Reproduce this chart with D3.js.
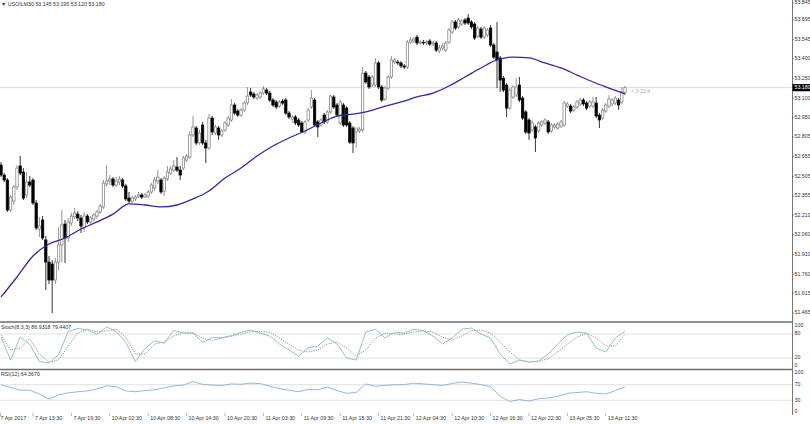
<!DOCTYPE html>
<html><head><meta charset="utf-8">
<script src="https://cdn.jsdelivr.net/npm/d3@7"></script>
<style>body{margin:0;background:#fff}svg{display:block}text{font-family:"Liberation Sans",Arial,sans-serif;font-size:5.3px;fill:#333}</style>
</head><body><svg id="c" width="810" height="425"></svg>
<script>
const symbol = "USOILM30";
const headerOHLC = ["53.145","53.195","53.120","53.180"];
const open = [52.591,52.515,52.477,52.249,52.317,52.424,52.584,52.538,52.363,52.462,52.477,52.302,52.104,52.173,52.021,51.853,51.838,51.716,51.853,51.983,
52.142,52.036,52.150,52.196,52.218,52.188,52.112,52.203,52.158,52.180,52.203,52.234,52.272,52.447,52.470,52.485,52.439,52.462,52.477,52.432,
52.340,52.317,52.333,52.348,52.363,52.348,52.355,52.386,52.416,52.470,52.477,52.393,52.485,52.530,52.553,52.576,52.553,52.568,52.629,52.652,
52.820,52.873,52.759,52.896,52.759,52.721,52.949,52.835,52.873,52.820,52.858,52.896,52.934,53.048,53.002,52.972,53.010,53.063,53.147,53.132,
53.101,53.109,53.139,53.162,53.139,53.086,53.071,53.040,53.078,53.086,52.987,52.941,52.957,52.934,52.911,52.843,52.934,53.033,53.086,52.919,
52.896,52.972,52.919,52.995,53.109,53.048,52.911,53.048,53.025,52.911,52.873,52.843,52.850,52.858,53.291,53.261,53.200,53.200,53.368,53.185,
53.094,53.177,53.261,53.375,53.375,53.368,53.345,53.337,53.527,53.535,53.565,53.520,53.527,53.520,53.535,53.512,53.520,53.459,53.482,53.466,
53.527,53.603,53.680,53.642,53.664,53.695,53.710,53.680,53.664,53.573,53.626,53.565,53.581,53.634,53.505,53.451,53.406,53.253,53.200,53.025,
53.109,53.124,53.200,53.101,52.995,52.934,52.858,52.881,52.850,52.896,52.911,52.919,52.850,52.881,52.873,52.888,52.896,53.040,53.040,53.010,
53.033,53.056,53.086,53.063,53.040,53.040,53.063,52.972,52.949,53.002,53.040,53.056,53.063,53.086,53.071,53.145];
const high = [52.614,52.530,52.492,52.363,52.439,52.591,52.660,52.568,52.538,52.508,52.492,52.325,52.196,52.203,52.051,51.899,51.868,51.884,52.119,52.249,
52.173,52.188,52.226,52.264,52.241,52.211,52.234,52.218,52.203,52.226,52.249,52.295,52.477,52.591,52.515,52.500,52.500,52.508,52.492,52.447,
52.386,52.355,52.363,52.386,52.378,52.378,52.401,52.454,52.500,52.553,52.492,52.508,52.584,52.584,52.629,52.652,52.584,52.660,52.675,52.850,
52.964,52.888,52.858,52.919,52.782,52.979,52.964,52.896,52.888,52.865,52.926,52.964,53.094,53.063,53.018,53.025,53.078,53.185,53.177,53.147,
53.139,53.154,53.193,53.177,53.154,53.101,53.086,53.086,53.094,53.101,53.002,52.972,52.972,52.949,52.926,52.934,53.025,53.162,53.101,52.934,
52.949,52.987,53.010,53.124,53.124,53.063,53.086,53.063,53.040,52.926,52.888,52.858,52.881,53.337,53.307,53.276,53.276,53.406,53.383,53.200,
53.193,53.276,53.421,53.406,53.391,53.383,53.360,53.543,53.565,53.565,53.581,53.543,53.543,53.543,53.550,53.535,53.535,53.505,53.520,53.535,
53.634,53.695,53.695,53.710,53.702,53.710,53.740,53.695,53.680,53.649,53.642,53.649,53.634,53.657,53.520,53.680,53.421,53.269,53.215,53.177,
53.200,53.253,53.261,53.116,53.010,52.949,52.934,52.896,52.926,52.934,52.949,52.934,52.911,52.911,52.919,52.934,53.078,53.071,53.056,53.048,
53.086,53.101,53.101,53.078,53.086,53.109,53.109,52.987,53.025,53.063,53.124,53.101,53.116,53.101,53.185,53.195];
const low = [52.500,52.462,52.234,52.234,52.287,52.401,52.515,52.325,52.340,52.424,52.287,52.097,52.043,52.021,51.640,51.686,51.465,51.686,51.792,51.853,
51.846,52.005,52.127,52.180,52.165,52.074,52.081,52.142,52.135,52.165,52.180,52.218,52.257,52.424,52.439,52.424,52.424,52.439,52.416,52.317,
52.302,52.302,52.317,52.340,52.333,52.340,52.340,52.371,52.393,52.447,52.371,52.355,52.470,52.515,52.538,52.538,52.477,52.553,52.614,52.637,
52.804,52.744,52.744,52.744,52.607,52.706,52.820,52.820,52.782,52.804,52.843,52.881,52.919,52.972,52.957,52.957,52.995,53.048,53.109,53.094,
53.086,53.094,53.124,53.124,53.071,53.033,53.018,53.025,53.048,52.972,52.941,52.911,52.896,52.881,52.835,52.827,52.919,53.018,52.881,52.804,
52.881,52.903,52.903,52.979,53.018,52.957,52.896,52.881,52.881,52.751,52.683,52.721,52.835,52.843,53.208,53.170,53.185,53.185,53.170,53.071,
53.078,53.162,53.246,53.360,53.352,53.330,53.322,53.322,53.512,53.520,53.505,53.505,53.505,53.505,53.497,53.497,53.451,53.444,53.466,53.451,
53.512,53.588,53.619,53.626,53.649,53.657,53.657,53.626,53.543,53.558,53.550,53.550,53.565,53.489,53.398,53.177,53.147,53.147,52.957,53.010,
53.094,53.109,53.071,52.934,52.827,52.782,52.843,52.690,52.835,52.881,52.896,52.827,52.835,52.865,52.858,52.873,52.881,53.025,52.987,52.995,
53.018,53.040,53.040,53.010,53.025,53.025,52.949,52.873,52.934,52.987,53.025,53.040,53.048,53.010,53.056,53.120];
const close = [52.515,52.477,52.249,52.348,52.424,52.568,52.530,52.340,52.462,52.439,52.302,52.112,52.127,52.036,51.853,51.716,51.716,51.853,51.983,52.135,
52.036,52.158,52.203,52.226,52.188,52.127,52.203,52.158,52.188,52.211,52.234,52.279,52.454,52.470,52.485,52.439,52.470,52.485,52.432,52.333,
52.317,52.340,52.348,52.363,52.348,52.363,52.386,52.439,52.477,52.500,52.386,52.492,52.538,52.561,52.584,52.553,52.515,52.645,52.660,52.820,
52.881,52.759,52.835,52.759,52.721,52.949,52.843,52.881,52.820,52.850,52.911,52.949,53.048,52.987,52.972,53.010,53.063,53.116,53.124,53.109,
53.124,53.139,53.170,53.139,53.086,53.048,53.033,53.071,53.063,52.987,52.957,52.957,52.911,52.896,52.843,52.919,53.010,53.101,52.896,52.881,
52.934,52.919,52.995,53.116,53.033,52.972,53.071,52.896,52.896,52.766,52.759,52.873,52.865,53.291,53.223,53.185,53.261,53.368,53.185,53.086,
53.177,53.261,53.391,53.391,53.368,53.345,53.337,53.527,53.543,53.550,53.520,53.527,53.520,53.527,53.512,53.520,53.466,53.482,53.497,53.520,
53.619,53.680,53.634,53.695,53.687,53.672,53.672,53.642,53.558,53.634,53.565,53.634,53.619,53.505,53.413,53.391,53.238,53.162,53.025,53.162,
53.185,53.185,53.086,52.949,52.843,52.835,52.911,52.797,52.911,52.919,52.934,52.843,52.896,52.896,52.903,52.919,53.063,53.056,53.002,53.033,
53.071,53.086,53.056,53.025,53.071,53.071,52.964,52.934,53.010,53.048,53.094,53.086,53.101,53.048,53.147,53.180];
// moving average, read every 5 bars
const maValues = [51.587,51.739,51.899,51.990,52.036,52.104,52.158,52.218,52.295,52.287,52.272,52.287,52.333,52.393,52.492,52.568,52.660,52.736,52.797,52.850,
52.911,52.964,52.979,53.002,53.040,53.071,53.109,53.139,53.193,53.261,53.330,53.391,53.413,53.406,53.368,53.330,53.276,53.223,53.177,53.132];
// indicators, read every 3 bars
const stochK = [72,15,73,54,11,8,28,86,94,90,79,98,86,59,11,44,63,57,89,82,82,59,71,71,76,84,90,82,
75,55,40,25,45,50,70,55,20,15,85,92,70,85,82,92,88,75,55,70,92,95,80,70,30,5,15,10,12,30,55,78,85,82,45,35,70,86.93];
const stochD = [78,40,45,68,30,10,15,50,82,92,85,88,92,72,30,30,55,60,75,85,83,70,64,70,74,80,86,86,
85,70,55,40,35,40,55,60,45,25,40,70,82,80,80,85,88,85,72,65,75,88,90,82,60,35,15,10,12,18,35,55,72,82,70,50,50,79.44];
const rsi = [69,63,56,56,46,33,44,49,52,54,59,67,65,54,52,55,57,62,67,69,78,71,69,68,72,71,74,73,
66,60,56,52,58,57,64,55,48,50,72,66,68,70,70,74,72,70,68,73,77,74,70,65,40,27,32,28,34,36,40,48,50,52,48,46,55,64.37];
const priceTicks = ["53.845","53.695","53.545","53.400","53.250","53.100","52.950","52.805","52.655","52.505","52.355","52.210","52.060","51.910","51.760","51.615","51.465"];
const timeLabels = ["7 Apr 2017","7 Apr 13:30","7 Apr 19:30","10 Apr 02:30","10 Apr 08:30","10 Apr 14:30","10 Apr 20:30","11 Apr 03:30","11 Apr 09:30","11 Apr 15:30","11 Apr 21:30","12 Apr 04:30","12 Apr 10:30","12 Apr 16:30","12 Apr 22:30","13 Apr 05:30","13 Apr 11:30"];
const timeLabelBars = [-1,10,22,34,46,58,70,82,94,106,118,129,141,153,165,177,189];
const stochLevels = [100,80,20,0];
const rsiLevels = [100,70,30,0];
const stochTitle = "Stoch(8,3,3) 86.9318 79.4407";
const rsiTitle = "RSI(12) 64.3670";
const lastPrice = 53.180;
const timerText = "< 0:22:4";

const svg = d3.select("#c");
const R = 792;
const n = close.length;
const x = d3.scaleLinear().domain([0, 195]).range([1, 625]);
const y = d3.scaleLinear().domain([51.465, 53.695]).range([313, 20]);
const yS = d3.scaleLinear().domain([0, 100]).range([366, 326]);
const yR = d3.scaleLinear().domain([0, 100]).range([412, 373]);

svg.append("rect").attr("width",810).attr("height",425).attr("fill","#fff");
const defs = svg.append("defs");
defs.append("clipPath").attr("id","cm").append("rect").attr("x",0).attr("y",0).attr("width",R).attr("height",321);
defs.append("clipPath").attr("id","cs").append("rect").attr("x",0).attr("y",323).attr("width",R).attr("height",45);
defs.append("clipPath").attr("id","cr").append("rect").attr("x",0).attr("y",371).attr("width",R).attr("height",43);

// current price line
svg.append("line").attr("x1",0).attr("x2",R).attr("y1",y(lastPrice)).attr("y2",y(lastPrice)).attr("stroke","#cfcfcf").attr("stroke-width",0.8);

// candles
const gm = svg.append("g").attr("clip-path","url(#cm)");
const idx = d3.range(n);
gm.selectAll("line.w").data(idx).join("line")
  .attr("x1", i => x(i)).attr("x2", i => x(i))
  .attr("y1", i => y(high[i])).attr("y2", i => y(low[i]))
  .attr("stroke", i => close[i] >= open[i] ? "#7a7a7a" : "#000").attr("stroke-width",0.8);
gm.selectAll("rect.b").data(idx).join("rect")
  .attr("x", i => x(i) - 1.2).attr("width", 2.4)
  .attr("y", i => y(Math.max(open[i], close[i])))
  .attr("height", i => Math.max(0.8, Math.abs(y(open[i]) - y(close[i]))))
  .attr("fill", i => close[i] >= open[i] ? "#fff" : "#000")
  .attr("stroke", i => close[i] >= open[i] ? "#7a7a7a" : "#000").attr("stroke-width",0.7);

// moving average
gm.append("path").datum(maValues)
  .attr("d", d3.line().x((d,k) => x(k*5)).y(d => y(d)).curve(d3.curveMonotoneX))
  .attr("fill","none").attr("stroke","#2b2ba6").attr("stroke-width",1.3);

// timer
svg.append("text").attr("x",631).attr("y",y(lastPrice)+4).attr("dominant-baseline","middle").style("fill","#aaa").text(timerText);

// header
svg.append("text").attr("x",1).attr("y",4.5).attr("dominant-baseline","middle").text("\u25BC " + symbol + "  " + headerOHLC.join(" "));

// separators
[322, 369.5].forEach(v => svg.append("line").attr("x1",0).attr("x2",R).attr("y1",v).attr("y2",v).attr("stroke","#6e6e6e").attr("stroke-width",1.6));

// right axis
svg.append("line").attr("x1",R+0.5).attr("x2",R+0.5).attr("y1",0).attr("y2",415).attr("stroke","#555").attr("stroke-width",0.8);
priceTicks.forEach(t => {
  const yy = Math.max(3, y(+t));
  svg.append("line").attr("x1",R).attr("x2",R+2).attr("y1",yy).attr("y2",yy).attr("stroke","#555").attr("stroke-width",0.6);
  svg.append("text").attr("x",R+2.5).attr("y",yy).attr("dominant-baseline","middle").text(t);
});
svg.append("rect").attr("x",R+0.5).attr("y",y(lastPrice)-3.6).attr("width",18).attr("height",7.2).attr("fill","#000");
svg.append("text").attr("x",R+2.5).attr("y",y(lastPrice)).attr("dominant-baseline","middle").style("fill","#fff").text(lastPrice.toFixed(3));

// stochastic panel
const gs = svg.append("g").attr("clip-path","url(#cs)");
[80,20].forEach(l => gs.append("line").attr("x1",0).attr("x2",R).attr("y1",yS(l)).attr("y2",yS(l)).attr("stroke","#d4d4d4").attr("stroke-width",0.7));
gs.append("path").datum(stochD).attr("d", d3.line().x((d,k)=>x(k*3)).y(d=>yS(d)))
  .attr("fill","none").attr("stroke","#666").attr("stroke-width",0.7).attr("stroke-dasharray","1.2,1.2");
gs.append("path").datum(stochK).attr("d", d3.line().x((d,k)=>x(k*3)).y(d=>yS(d)))
  .attr("fill","none").attr("stroke","#86c0b8").attr("stroke-width",0.9);
svg.append("text").attr("x",1).attr("y",327.5).attr("dominant-baseline","middle").text(stochTitle);
stochLevels.forEach(l => svg.append("text").attr("x",R+2.5).attr("y",yS(l)).attr("dominant-baseline","middle").text(l));

// RSI panel
const gr = svg.append("g").attr("clip-path","url(#cr)");
[70,30].forEach(l => gr.append("line").attr("x1",0).attr("x2",R).attr("y1",yR(l)).attr("y2",yR(l)).attr("stroke","#d4d4d4").attr("stroke-width",0.7));
gr.append("path").datum(rsi).attr("d", d3.line().x((d,k)=>x(k*3)).y(d=>yR(d)))
  .attr("fill","none").attr("stroke","#7fb2de").attr("stroke-width",0.9);
svg.append("text").attr("x",1).attr("y",375).attr("dominant-baseline","middle").text(rsiTitle);
rsiLevels.forEach(l => svg.append("text").attr("x",R+2.5).attr("y",yR(l)).attr("dominant-baseline","middle").text(l));

// time axis
timeLabels.forEach((t,k) => {
  const xx = x(timeLabelBars[k]);
  svg.append("line").attr("x1",Math.max(0.5,xx)).attr("x2",Math.max(0.5,xx)).attr("y1",413).attr("y2",416).attr("stroke","#888").attr("stroke-width",0.6);
  svg.append("text").attr("x",Math.max(0.5, xx+2)).attr("y",418.5).attr("dominant-baseline","middle").text(t);
});
</script></body></html>
